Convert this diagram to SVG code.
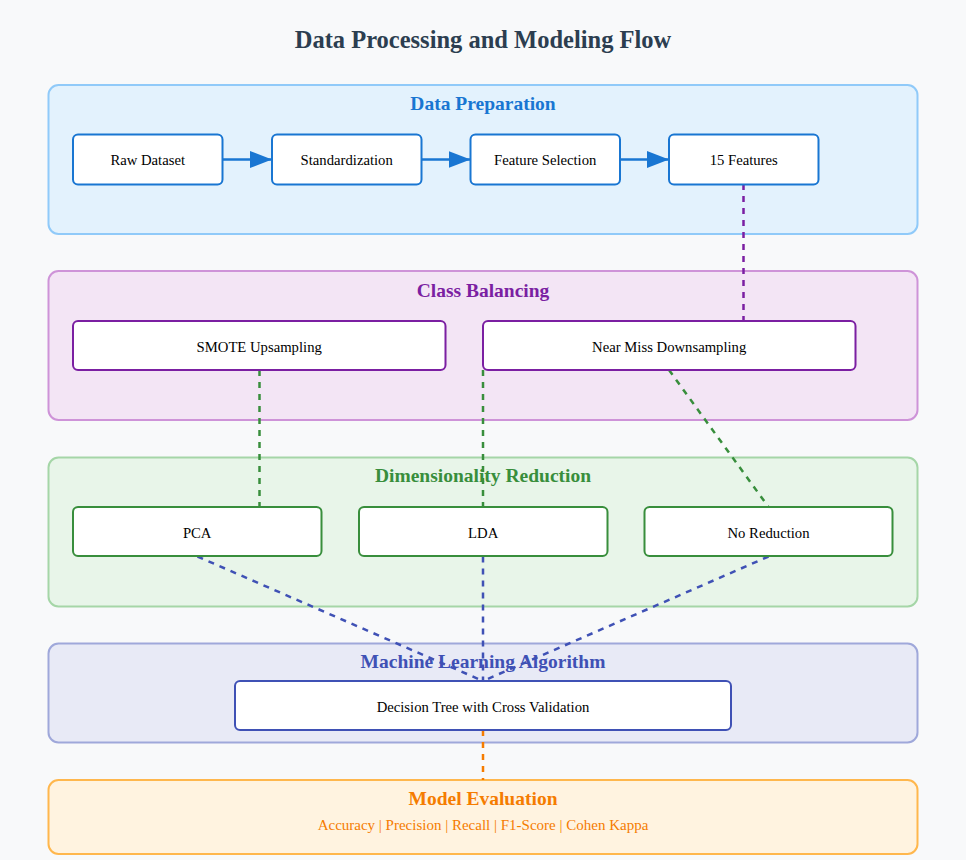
<svg xmlns="http://www.w3.org/2000/svg" width="966" height="860" viewBox="0 0 966 860">
  <style>
    text { font-family: "Liberation Serif", "Times New Roman", serif; text-anchor: middle; }
    .title { font-size: 24.5px; font-weight: bold; fill: #2c3e50; }
    .sec { font-size: 19.5px; font-weight: bold; }
    .node { fill: #ffffff; stroke-width: 2; }
    .lbl { font-size: 14.7px; fill: #000000; }
    .cont { stroke-width: 2; }
    .dash { fill: none; stroke-width: 2.5; stroke-dasharray: 6,6; }
  </style>
  <defs>
    <marker id="arrow" markerUnits="userSpaceOnUse" markerWidth="22" markerHeight="17" refX="22" refY="8.5" orient="auto">
      <path d="M0,0 L22,8.5 L0,17 Z" fill="#1976d2"/>
    </marker>
  </defs>
  <rect x="0" y="0" width="966" height="860" fill="#f8f9fa"/>
  <text class="title" x="483" y="48">Data Processing and Modeling Flow</text>

  <g id="containers">
    <g id="sec-prep">
      <rect class="cont" x="48.5" y="85" width="869" height="149" rx="10" fill="#e3f2fd" stroke="#90caf9"/>
      <text class="sec" x="483" y="110" fill="#1976d2">Data Preparation</text>
    </g>
    <g id="sec-balance">
      <rect class="cont" x="48.5" y="271" width="869" height="149" rx="10" fill="#f3e5f5" stroke="#ce93d8"/>
      <text class="sec" x="483" y="297" fill="#7b1fa2">Class Balancing</text>
    </g>
    <g id="sec-dim">
      <rect class="cont" x="48.5" y="457.5" width="869" height="149" rx="10" fill="#e8f5e9" stroke="#a5d6a7"/>
      <text class="sec" x="483" y="482" fill="#388e3c">Dimensionality Reduction</text>
    </g>
    <g id="sec-ml">
      <rect class="cont" x="48.5" y="643.5" width="869" height="99" rx="10" fill="#e8eaf6" stroke="#9fa8da"/>
      <text class="sec" x="483" y="668" fill="#3f51b5">Machine Learning Algorithm</text>
    </g>
    <g id="sec-eval">
      <rect class="cont" x="48.5" y="780" width="869" height="74" rx="10" fill="#fff3e0" stroke="#ffb74d"/>
      <text class="sec" x="483" y="805" fill="#f57c00">Model Evaluation</text>
      <text x="483" y="830" font-size="15px" fill="#f57c00">Accuracy | Precision | Recall | F1-Score | Cohen Kappa</text>
    </g>
  </g>

  <g id="connectors">
    <line x1="222.5" y1="159.5" x2="272" y2="159.5" stroke="#1976d2" stroke-width="2.5" marker-end="url(#arrow)"/>
    <line x1="421" y1="159.5" x2="470.5" y2="159.5" stroke="#1976d2" stroke-width="2.5" marker-end="url(#arrow)"/>
    <line x1="619.5" y1="159.5" x2="669" y2="159.5" stroke="#1976d2" stroke-width="2.5" marker-end="url(#arrow)"/>
    <line class="dash" x1="743.5" y1="184" x2="743.5" y2="321" stroke="#7b1fa2"/>
    <line class="dash" x1="259.5" y1="370" x2="259.5" y2="507" stroke="#388e3c"/>
    <line class="dash" x1="483" y1="370" x2="483" y2="507" stroke="#388e3c"/>
    <line class="dash" x1="669" y1="370" x2="768.5" y2="507" stroke="#388e3c"/>
    <line class="dash" x1="197.5" y1="556.5" x2="483" y2="681" stroke="#3f51b5"/>
    <line class="dash" x1="483" y1="556.5" x2="483" y2="681" stroke="#3f51b5"/>
    <line class="dash" x1="768.5" y1="556.5" x2="483" y2="681" stroke="#3f51b5"/>
    <line class="dash" x1="483" y1="730" x2="483" y2="780" stroke="#f57c00"/>
  </g>

  <g id="node-raw">
    <rect class="node" x="73" y="134.5" width="149.5" height="50" rx="5" stroke="#1976d2"/>
    <text class="lbl" x="147.7" y="165">Raw Dataset</text>
  </g>
  <g id="node-std">
    <rect class="node" x="272" y="134.5" width="149.5" height="50" rx="5" stroke="#1976d2"/>
    <text class="lbl" x="346.7" y="165">Standardization</text>
  </g>
  <g id="node-fs">
    <rect class="node" x="470.5" y="134.5" width="149.5" height="50" rx="5" stroke="#1976d2"/>
    <text class="lbl" x="545.2" y="165">Feature Selection</text>
  </g>
  <g id="node-15f">
    <rect class="node" x="669" y="134.5" width="149.5" height="50" rx="5" stroke="#1976d2"/>
    <text class="lbl" x="743.7" y="165">15 Features</text>
  </g>

  <g id="node-smote">
    <rect class="node" x="73" y="321" width="372.5" height="49" rx="5" stroke="#7b1fa2"/>
    <text class="lbl" x="259.2" y="352">SMOTE Upsampling</text>
  </g>
  <g id="node-nearmiss">
    <rect class="node" x="483" y="321" width="372.5" height="49" rx="5" stroke="#7b1fa2"/>
    <text class="lbl" x="669.2" y="352">Near Miss Downsampling</text>
  </g>

  <g id="node-pca">
    <rect class="node" x="73" y="507" width="248.5" height="49" rx="5" stroke="#388e3c"/>
    <text class="lbl" x="197.2" y="538">PCA</text>
  </g>
  <g id="node-lda">
    <rect class="node" x="359" y="507" width="248.5" height="49" rx="5" stroke="#388e3c"/>
    <text class="lbl" x="483.2" y="538">LDA</text>
  </g>
  <g id="node-nored">
    <rect class="node" x="644.5" y="507" width="248" height="49" rx="5" stroke="#388e3c"/>
    <text class="lbl" x="768.5" y="538">No Reduction</text>
  </g>

  <g id="node-dt">
    <rect class="node" x="235" y="681" width="496" height="49" rx="5" stroke="#3f51b5"/>
    <text class="lbl" x="483" y="712">Decision Tree with Cross Validation</text>
  </g>
</svg>
